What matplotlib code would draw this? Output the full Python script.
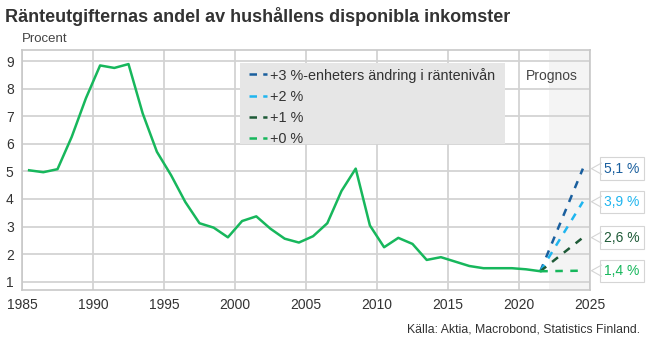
import matplotlib
matplotlib.use("Agg")
from matplotlib import pyplot as plt
from matplotlib.patches import Rectangle
from matplotlib.lines import Line2D

plt.rcParams['font.family'] = ['Liberation Sans', 'DejaVu Sans']

# annual values, plotted at mid-year
years = [1985.5, 1986.5, 1987.5, 1988.5, 1989.5, 1990.5, 1991.5, 1992.5, 1993.5,
         1994.5, 1995.5, 1996.5, 1997.5, 1998.5, 1999.5, 2000.5, 2001.5, 2002.5,
         2003.5, 2004.5, 2005.5, 2006.5, 2007.5, 2008.5, 2009.5, 2010.5, 2011.5,
         2012.5, 2013.5, 2014.5, 2015.5, 2016.5, 2017.5, 2018.5, 2019.5, 2020.5,
         2021.5]
share = [5.04, 4.97, 5.08, 6.25, 7.65, 8.84, 8.75, 8.89, 7.1,
         5.71, 4.86, 3.89, 3.12, 2.96, 2.61, 3.2, 3.37, 2.92,
         2.56, 2.42, 2.65, 3.12, 4.29, 5.1, 3.04, 2.25, 2.59,
         2.37, 1.79, 1.89, 1.73, 1.57, 1.49, 1.49, 1.49, 1.45,
         1.38]

fc_years = [2021.5, 2024.5]
fc_plus3 = [1.38, 5.1]
fc_plus2 = [1.38, 3.9]
fc_plus1 = [1.38, 2.6]
fc_plus0 = [1.38, 1.4]
fc_labels = ['5,1 %', '3,9 %', '2,6 %', '1,4 %']
series_names = ['+3 %-enheters ändring i räntenivån', '+2 %', '+1 %', '+0 %']
colors = ['#1a5f9e', '#1fb5ef', '#1e5a37', '#17b75c']

fig = plt.figure(figsize=(6.5, 3.5), dpi=100)
ax = fig.add_axes([22 / 650, 60 / 350, 568 / 650, 240 / 350])

ax.axvspan(2022.1, 2025, color='#f4f4f4', zorder=0, lw=0)
ax.grid(True, color='#d3d3d3', lw=1.3, zorder=1)
ax.set_axisbelow(True)

for yv, c in zip([fc_plus3, fc_plus2, fc_plus1, fc_plus0], colors):
    ax.plot(fc_years, yv, color=c, lw=1.8, ls=(0, (3, 3)), zorder=3)
ax.plot(years, share, color=colors[3], lw=1.8, zorder=4)

# value callouts at the end of each scenario
for yv, c, lab in zip([fc_plus3, fc_plus2, fc_plus1, fc_plus0], colors, fc_labels):
    v = yv[-1]
    ax.text(2026.0, v, lab, color=c, fontsize=10, va='center', ha='left', clip_on=False,
            bbox=dict(boxstyle='square,pad=0.3', fc='white', ec='#d5d5d5', lw=0.8), zorder=5)
    ax.plot([2025.8, 2025.1, 2025.8], [v + 0.2, v, v - 0.2], color='#d5d5d5',
            lw=0.8, clip_on=False, zorder=6)

ax.text(2022.3, 8.47, 'Prognos', ha='center', va='center', fontsize=10, color='#444444')

ax.add_patch(Rectangle((0.384, 0.608), 0.466, 0.338, transform=ax.transAxes,
                       fc='#e6e6e6', ec='none', zorder=2))
handles = [Line2D([], [], color=c, lw=1.8, ls=(0, (3, 2.5))) for c in colors]
leg = ax.legend(handles=handles, labels=series_names, loc='upper left',
                bbox_to_anchor=(0.380, 0.975), frameon=False, fontsize=10.4,
                handlelength=1.2, handletextpad=0.2, labelspacing=0.5, borderpad=0.3,
                labelcolor='#333333')
leg.set_zorder(3)

ax.set_xlim(1985, 2025)
ax.set_ylim(0.7, 9.4)
ax.set_xticks(range(1985, 2026, 5))
ax.set_yticks(range(1, 10))
ax.tick_params(length=0, labelsize=10, colors='#333333', pad=6)
for s in ax.spines.values():
    s.set_color('#c8c8c8')
    s.set_linewidth(1.2)

fig.text(5 / 650, 1 - 22 / 350, 'Ränteutgifternas andel av hushållens disponibla inkomster',
         fontsize=13, fontweight='bold', color='#333333', va='baseline')
fig.text(22 / 650, 1 - 42 / 350, 'Procent', fontsize=9.5, color='#444444', va='baseline')
fig.text(640 / 650, 1 - 333 / 350, 'Källa: Aktia, Macrobond, Statistics Finland.',
         fontsize=8.8, color='#333333', ha='right', va='baseline')

fig.savefig('out.png', dpi=100)
